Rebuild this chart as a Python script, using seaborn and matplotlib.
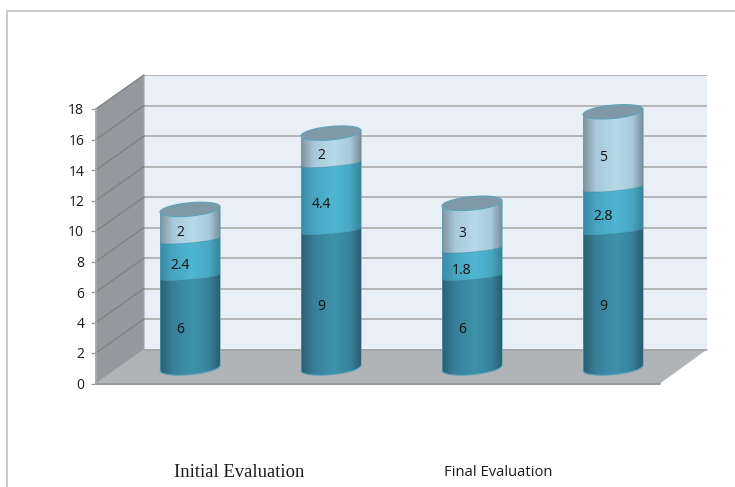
import numpy as np
import pandas as pd
import matplotlib
matplotlib.use("Agg")
import matplotlib.pyplot as plt
from matplotlib.patches import Polygon, PathPatch
from matplotlib.path import Path
import seaborn as sns

# Stacked evaluation scores per column
columns = ["Initial A", "Initial B", "Final A", "Final B"]
lower_values = [6, 9, 6, 9]
middle_values = [2.4, 4.4, 1.8, 2.8]
upper_values = [2, 2, 3, 5]
y_ticks = list(range(0, 20, 2))
group_labels = ["Initial Evaluation", "Final Evaluation"]

# Horizontal shading across each cylinder: edge, shoulder, centre, shoulder, edge
lower_shade = ["#2a6073", "#37809a", "#3f92ab", "#37829b", "#2a5e70"]
middle_shade = ["#3a8aa6", "#48a6c2", "#4fb6d2", "#48a8c4", "#388499"]
upper_shade = ["#7f939d", "#a8cada", "#b6dae9", "#a8cbdb", "#7a8f9c"]
cap_colour = "#7f9aa6"
rim_colour = "#5ba3b9"

W, H = 735, 487
PX_PER_UNIT = 15.25
DEPTH_X, DEPTH_Y = 48, 34
DEPTH_UNITS = DEPTH_Y / PX_PER_UNIT


def axes_box(left, right, bottom, top):
    return [left / W, 1 - bottom / H, (right - left) / W, (bottom - top) / H]


sns.set_theme(style="white")
fig = plt.figure(figsize=(W / 100, H / 100), dpi=100, facecolor="white")

# Page frame along the top and left edges
fig.add_artist(plt.Line2D([6.7 / W, 6.7 / W, 1], [0, 1 - 11 / H, 1 - 11 / H],
                          color="#bcbcbc", lw=1.1))

# Back wall with its gridlines
ax_back = fig.add_axes(axes_box(144, 707, 350, 75), zorder=1)
ax_back.set_facecolor("#e8eff6")
ax_back.set_ylim(0, 18)
ax_back.set_xticks([])
ax_back.set_yticks(y_ticks)
ax_back.tick_params(left=False, labelleft=False)
ax_back.grid(axis="y", color="#b4b5b6", lw=1.4)
ax_back.set_axisbelow(True)
for side in ax_back.spines.values():
    side.set_visible(False)

# Front plane: carries the value axis, side wall and floor
ax_front = fig.add_axes(axes_box(96, 660, 383.5, 109), zorder=2)
ax_front.patch.set_visible(False)
ax_front.set_xlim(96, 660)
ax_front.set_ylim(0, 18)
ax_front.set_xticks([])
ax_front.set_yticks(y_ticks)
ax_front.set_yticklabels([str(t) for t in y_ticks], family="Open Sans",
                         fontsize=10, color="#1c1c1c")
ax_front.tick_params(axis="y", left=True, length=3.5, width=0.9, color="#9a9a9a", pad=5)
for name, side in ax_front.spines.items():
    side.set_visible(name == "left")
    side.set_color("#a8a8a8")

ax_front.add_patch(Polygon(
    [(96, 0), (96 + DEPTH_X, DEPTH_UNITS), (96 + DEPTH_X, 18 + DEPTH_UNITS), (96, 18)],
    closed=True, fc="#95989c", ec="#a5a7aa", lw=0.8, clip_on=False, zorder=1))
ax_front.add_patch(Polygon(
    [(96, 0), (660, 0), (660 + DEPTH_X - 1, DEPTH_UNITS), (96 + DEPTH_X, DEPTH_UNITS)],
    closed=True, fc="#b0b4b7", ec="none", clip_on=False, zorder=1))
ax_front.plot([96, 660], [0, 0], color="#8f9193", lw=1.3, clip_on=False, zorder=2)
ax_front.plot([96 + DEPTH_X, 660 + DEPTH_X - 1], [DEPTH_UNITS] * 2,
              color="#a0a3a5", lw=1.1, clip_on=False, zorder=2)
for t in y_ticks[1:]:
    ax_front.plot([96, 96 + DEPTH_X], [t, t + DEPTH_UNITS], color="#808386", lw=1,
                  clip_on=False, zorder=2)

# Stacked bars sit part-way into the depth of the scene; the axes reach below
# zero so the rounded bases are not cut off
CENTRE_FIRST, CENTRE_STEP = 190, 141
MARGIN_UNITS = 2
BASE_Y = 368
ax_bars = fig.add_axes(axes_box(CENTRE_FIRST - CENTRE_STEP / 2,
                                CENTRE_FIRST + 3.5 * CENTRE_STEP,
                                BASE_Y + MARGIN_UNITS * PX_PER_UNIT,
                                BASE_Y - 18 * PX_PER_UNIT), zorder=3)
ax_bars.patch.set_visible(False)

table = pd.DataFrame({"column": columns, "lower": lower_values,
                      "middle": middle_values, "upper": upper_values})
table["middle_base"] = table["lower"]
table["upper_base"] = table["lower"] + table["middle"]
bar_width = 60 / CENTRE_STEP

sns.barplot(data=table, x="column", y="lower", width=bar_width, color=lower_shade[2],
            ax=ax_bars, saturation=1, zorder=3)
sns.barplot(data=table, x="column", y="middle", bottom=table["middle_base"].to_numpy(),
            width=bar_width, color=middle_shade[2], ax=ax_bars, saturation=1, zorder=3)
sns.barplot(data=table, x="column", y="upper", bottom=table["upper_base"].to_numpy(),
            width=bar_width, color=upper_shade[2], ax=ax_bars, saturation=1, zorder=3)

ax_bars.set_xlim(-0.5, 3.5)
ax_bars.set_ylim(-MARGIN_UNITS, 18)
ax_bars.axis("off")

TILT_PX = 2.7      # rise of an ellipse from its left to its right end
RIM_PX = 6.7       # half depth of the outer ellipses
BAND_PX = 3.0      # half depth of the inner seams


def front_arc(x0, width, y, depth_px):
    """Front half of a tilted ellipse, running left to right, in data units."""
    t = np.linspace(np.pi, 2 * np.pi, 40)
    xs = x0 + width / 2 + width / 2 * np.cos(t)
    ys = y + (TILT_PX * np.cos(t) + depth_px * np.sin(t)) / PX_PER_UNIT
    return xs, ys


def gradient(stops):
    rgb = np.array([matplotlib.colors.to_rgb(c) for c in stops])
    pos = np.array([0, 0.22, 0.55, 0.82, 1])
    grid = np.linspace(0, 1, 120)
    return np.stack([np.interp(grid, pos, rgb[:, i]) for i in range(3)], axis=-1)[None, :, :]


shades = [lower_shade, middle_shade, upper_shade]
for level, container in enumerate(ax_bars.containers):
    for bar, value in zip(container, [lower_values, middle_values, upper_values][level]):
        x0, w = bar.get_x(), bar.get_width()
        y0, y1 = bar.get_y(), bar.get_y() + bar.get_height()
        lo_x, lo_y = front_arc(x0, w, y0, RIM_PX if level == 0 else BAND_PX)
        hi_x, hi_y = front_arc(x0, w, y1, RIM_PX if level == 2 else BAND_PX)
        outline = Path(np.column_stack([np.r_[lo_x, hi_x[::-1], lo_x[0]],
                                        np.r_[lo_y, hi_y[::-1], lo_y[0]]]), closed=False)
        clip = PathPatch(outline, transform=ax_bars.transData, fc="none", ec="none")
        ax_bars.add_patch(clip)
        bar.set_clip_path(clip)
        image = ax_bars.imshow(gradient(shades[level]), extent=(x0, x0 + w, y0 - 1, y1 + 1),
                               aspect="auto", interpolation="bilinear", zorder=4)
        image.set_clip_path(clip)

        # Rim along the cylinder sides and its base
        ax_bars.plot([x0, x0], [lo_y[0], hi_y[0]], color=rim_colour, lw=0.7, alpha=0.6, zorder=5)
        ax_bars.plot([x0 + w, x0 + w], [lo_y[-1], hi_y[-1]], color=rim_colour, lw=0.7, alpha=0.6, zorder=5)
        if level == 0:
            ax_bars.plot(lo_x, lo_y, color=rim_colour, lw=0.8, zorder=5)
        else:
            ax_bars.plot(lo_x, lo_y, color="#2f7d96", lw=0.5, alpha=0.6, zorder=5)

        # Elliptical lid on the topmost segment
        if level == 2:
            t = np.linspace(0, 2 * np.pi, 80)
            cx = x0 + w / 2
            lid_x = cx + w / 2 * np.cos(t)
            lid_y = y1 + (TILT_PX * np.cos(t) + RIM_PX * np.sin(t)) / PX_PER_UNIT
            ax_bars.add_patch(Polygon(np.column_stack([lid_x, lid_y]), closed=True,
                                      fc=cap_colour, ec=rim_colour, lw=0.8, zorder=6))

        ax_bars.annotate(f"{value:g}", (x0 + w / 2, (y0 + y1) / 2),
                         xytext=(-7.2, -5.3), textcoords="offset points",
                         ha="center", va="center", family="Open Sans",
                         fontsize=10, color="#111111", zorder=7)

# Group captions below the plot
fig.text(239 / W, 1 - 472.5 / H, group_labels[0], family="Liberation Serif", fontsize=13.4,
         ha="center", va="center", color="#1a1a1a")
fig.text(498 / W, 1 - 472 / H, group_labels[1], family="Open Sans", fontsize=10.6,
         ha="center", va="center", color="#1a1a1a")

fig.savefig("out.png", dpi=100)
